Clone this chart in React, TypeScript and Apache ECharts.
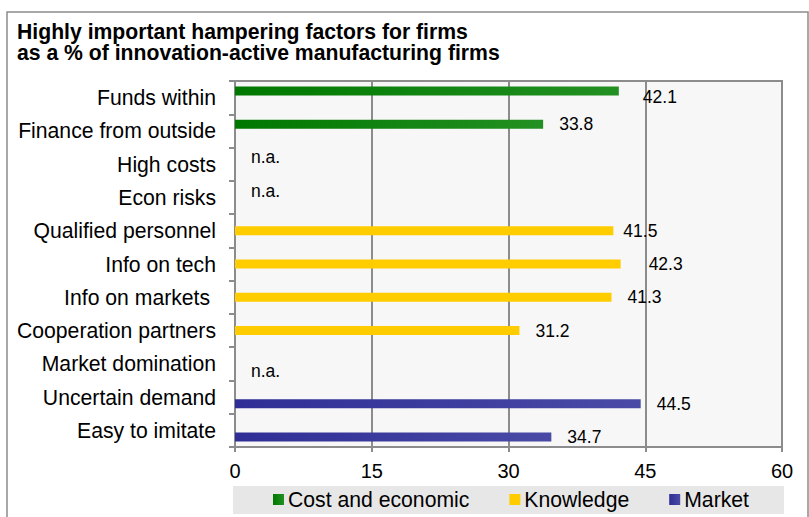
import React, { useEffect, useRef } from "react";
import * as echarts from "echarts";

const titleLines = [
  "Highly important hampering factors for firms",
  "as a % of innovation-active manufacturing firms",
];

const categories = [
  "Funds within",
  "Finance from outside",
  "High costs",
  "Econ risks",
  "Qualified personnel",
  "Info on tech",
  "Info on markets ",
  "Cooperation partners",
  "Market domination",
  "Uncertain demand",
  "Easy to imitate",
];

// group each factor belongs to
const groups = [
  "Cost and economic",
  "Cost and economic",
  "Cost and economic",
  "Cost and economic",
  "Knowledge",
  "Knowledge",
  "Knowledge",
  "Knowledge",
  "Market",
  "Market",
  "Market",
];

// null = n.a.
const values: (number | null)[] = [42.1, 33.8, null, null, 41.5, 42.3, 41.3, 31.2, null, 44.5, 34.7];

const seriesNames = ["Cost and economic", "Knowledge", "Market"];

const xTicks = [0, 15, 30, 45, 60];

// label nudges (styling, as in the reference)
const labelNudge: Record<string, [number, number]> = {
  "Funds within": [8, 6],
  "Qualified personnel": [-6, 0],
  "Info on tech": [12, 0],
};

const FONT = "'Liberation Sans', Arial, Helvetica, sans-serif";

const seriesColors: Record<string, any> = {
  "Cost and economic": new echarts.graphic.LinearGradient(0, 0, 1, 0, [
    { offset: 0, color: "#007800" },
    { offset: 1, color: "#229022" },
  ]),
  Knowledge: "#ffcc00",
  Market: new echarts.graphic.LinearGradient(0, 0, 1, 0, [
    { offset: 0, color: "#2e2e96" },
    { offset: 1, color: "#4a4aa6" },
  ]),
};

export default function App() {
  const ref = useRef<HTMLDivElement>(null);

  useEffect(() => {
    if (!ref.current) return;
    const chart = echarts.init(ref.current, undefined, { renderer: "svg" });

    const series = seriesNames.map((name) => ({
      name,
      type: "bar",
      barWidth: 9,
      barGap: "-25%",
      itemStyle: { color: seriesColors[name] },
      label: {
        show: true,
        position: "right",
        distance: 16,
        color: "#000",
        fontSize: 17.5,
        fontFamily: FONT,
      },
      data: categories.map((c, i) => {
        if (groups[i] !== name) return "-";
        const v = values[i];
        if (v === null) {
          return { value: 0, label: { formatter: "n.a." } };
        }
        const nudge = labelNudge[c];
        return nudge ? { value: v, label: { offset: nudge } } : v;
      }),
    }));

    chart.setOption({
      animation: false,
      textStyle: { fontFamily: FONT },
      title: {
        text: titleLines.join("\n"),
        left: 17,
        top: 21,
        padding: 0,
        textStyle: {
          fontFamily: FONT,
          fontSize: 21.2,
          fontWeight: "bold",
          color: "#000",
          lineHeight: 21,
        },
      },
      graphic: [
        {
          type: "rect",
          silent: true,
          z: -10,
          shape: { x: 7, y: 12, width: 801, height: 520 },
          style: { fill: "#fff", stroke: "#8c8c8c", lineWidth: 1.5 },
        },
        {
          type: "rect",
          silent: true,
          z: -5,
          shape: { x: 233, y: 486, width: 551, height: 28 },
          style: { fill: "#e7e7e7" },
        },
      ],
      legend: {
        data: seriesNames,
        left: 273,
        top: 489,
        padding: 0,
        itemWidth: 11,
        itemHeight: 11,
        itemGap: 40,
        icon: "rect",
        textStyle: { fontFamily: FONT, fontSize: 21.2, color: "#000", padding: [0, 0, 0, -1] },
      },
      grid: {
        left: 235,
        top: 81,
        right: 27,
        bottom: 70,
        show: true,
        backgroundColor: "#f7f7f7",
        borderColor: "#8c8c8c",
        borderWidth: 2,
      },
      xAxis: {
        type: "value",
        min: xTicks[0],
        max: xTicks[xTicks.length - 1],
        interval: xTicks[1] - xTicks[0],
        axisLine: { show: true, lineStyle: { color: "#8c8c8c", width: 2 } },
        axisTick: { show: true, length: 5, lineStyle: { color: "#8c8c8c", width: 2 } },
        splitLine: { show: true, lineStyle: { color: "#8c8c8c", width: 2 } },
        axisLabel: { color: "#000", fontSize: 20, fontFamily: FONT, margin: 14 },
      },
      yAxis: {
        type: "category",
        data: categories,
        inverse: true,
        axisLine: { show: true, lineStyle: { color: "#8c8c8c", width: 2 } },
        axisTick: { show: true, length: 6, lineStyle: { color: "#8c8c8c", width: 2 } },
        axisLabel: { color: "#000", fontSize: 21.2, fontFamily: FONT, margin: 19 },
        splitLine: { show: false },
      },
      series,
    });

    return () => chart.dispose();
  }, []);

  return <div ref={ref} style={{ width: 809, height: 517, position: "absolute", left: 0, top: 0 }} />;
}
